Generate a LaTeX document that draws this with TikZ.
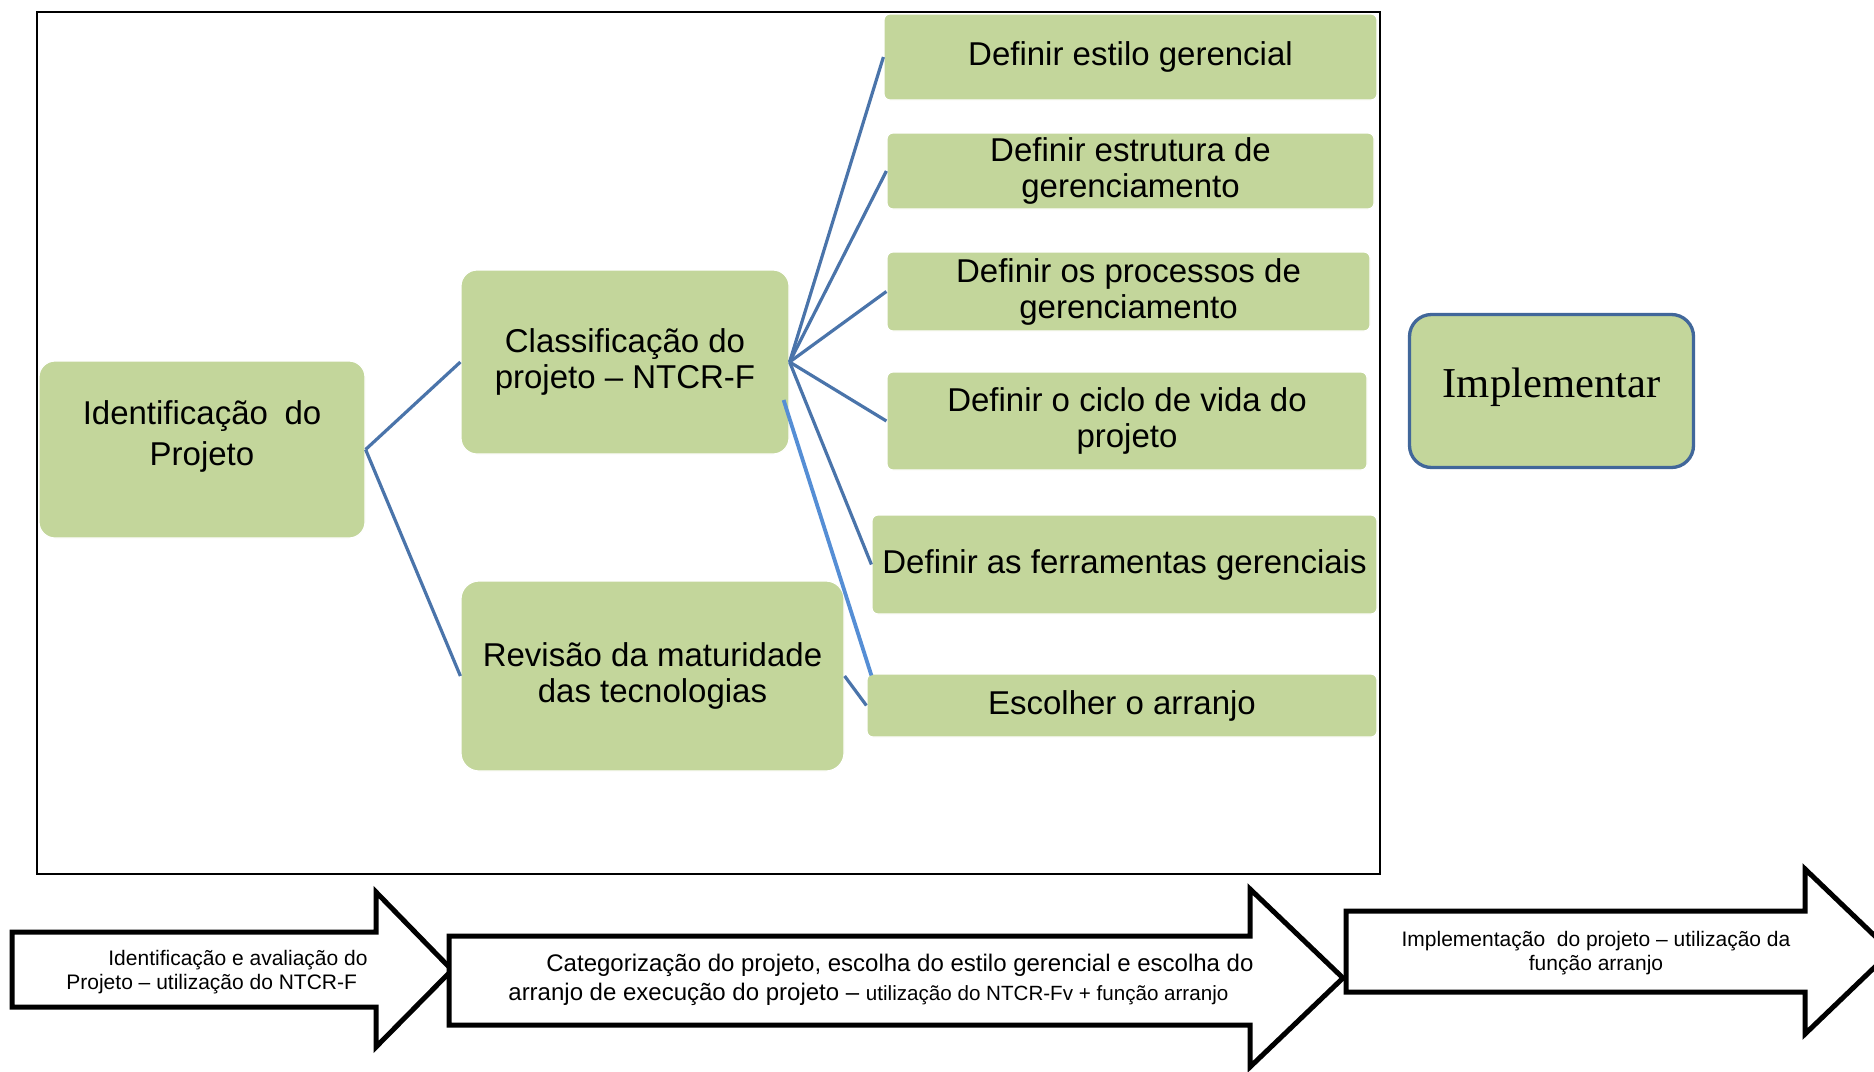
\documentclass[tikz,border=0pt]{standalone}
\usepackage{fontspec}
\setmainfont{Liberation Sans}
\newfontfamily\implfont{Liberation Serif}
\definecolor{boxgreen}{HTML}{C3D69B}
\definecolor{linkblue}{HTML}{4A74AA}
\definecolor{lightblue}{HTML}{558ED5}
\definecolor{implblue}{HTML}{41679A}
\begin{document}
\begin{tikzpicture}[x=0.5pt,y=-0.5pt,
  gbox/.style={fill=boxgreen, draw=white, line width=0.6pt, inner sep=0pt, align=center,
    font=\fontsize{16.5}{18}\selectfont},
  leftbox/.style={gbox, rounded corners=8pt},
  rightbox/.style={gbox, rounded corners=3pt},
  link/.style={draw=linkblue, line width=1.6pt},
  lightlink/.style={draw=lightblue, line width=1.9pt},
  flowarrow/.style={draw=black, fill=white, line width=2.5pt, line join=miter},
  arrowtext/.style={inner sep=0pt, font=\fontsize{10.5}{12}\selectfont}]
\useasboundingbox (0,0) rectangle (1874,1071);
\clip (0,0) rectangle (1874,1071);
\fill[white] (0,0) rectangle (1874,1071);

% frame
\draw[line width=1.2pt] (37,12) rectangle (1380,874);

% left boxes
\node[leftbox, minimum width=163pt, minimum height=88.5pt] (ident) at (202,449.5) {};
\node[inner sep=0pt, align=center, font=\fontsize{16.5}{20.5}\selectfont] (identtext) at (202,436) {Identificação\enspace do\\Projeto};
\node[leftbox, minimum width=164pt, minimum height=92pt] (class) at (625,362) {Classificação do\\projeto – NTCR-F};
\node[leftbox, minimum width=191.5pt, minimum height=95pt, rounded corners=9pt] (rev) at (652.5,676) {Revisão da maturidade\\das tecnologias};

% right boxes
\node[rightbox, minimum width=246.5pt, minimum height=43pt] (estilo) at (1130.5,57) {Definir estilo gerencial};
\node[rightbox, minimum width=243.5pt, minimum height=38pt] (estrut) at (1130.5,171) {Definir estrutura de\\gerenciamento};
\node[rightbox, minimum width=241.5pt, minimum height=39.5pt] (proc) at (1128.5,291.5) {Definir os processos de\\gerenciamento};
\node[rightbox, minimum width=240pt, minimum height=49pt] (ciclo) at (1127,421) {Definir o ciclo de vida do\\projeto};
\node[rightbox, minimum width=252.5pt, minimum height=49.5pt] (ferr) at (1124.5,564.5) {Definir as ferramentas gerenciais};
\node[rightbox, minimum width=255pt, minimum height=31.5pt] (esc) at (1122,705.5) {Escolher o arranjo};

% implementar
\node[fill=boxgreen, draw=implblue, line width=1.65pt, rounded corners=11pt, inner sep=0pt,
  minimum width=142pt, minimum height=76.5pt] (impl) at (1551.5,391) {};
\node[inner sep=0pt, font=\implfont\fontsize{21.3}{24}\selectfont] (impltext) at (1551.5,387) {Implementar};

% connectors
\draw[link] (ident.east) -- (class.west);
\draw[link] (ident.east) -- (rev.west);
\foreach \t in {estilo,estrut,proc,ciclo,ferr}{
  \draw[link] (class.east) -- (\t.west);
}
\draw[link] (rev.east) -- (esc.west);
\draw[lightlink] ([shift={(-6,38)}]class.east) -- ([shift={(5,2)}]esc.north west);

% bottom arrows
\draw[flowarrow] (12,932) -- (376,932) -- (376,892) -- (452,970) -- (376,1047) -- (376,1007) -- (12,1007) -- cycle;
\draw[flowarrow] (449,936) -- (1250,936) -- (1250,889) -- (1343,978) -- (1250,1067) -- (1250,1025) -- (449,1025) -- cycle;
\draw[flowarrow] (1346,911) -- (1805,911) -- (1805,869) -- (1891,951.5) -- (1805,1034) -- (1805,992) -- (1346,992) -- cycle;

\node[arrowtext, anchor=west, align=left] (a1text) at (66,972)
  {\hspace*{21pt}Identificação e avaliação do\\Projeto – utilização do NTCR-F};
\node[arrowtext, anchor=west, align=left, font=\fontsize{12}{14.5}\selectfont] (a2text) at (508,980)
  {\hspace*{19pt}Categorização do projeto, escolha do estilo gerencial e escolha do\\arranjo de execução do projeto – {\fontsize{10.3}{14.5}\selectfont utilização do NTCR-Fv + função arranjo}};
\node[arrowtext, align=center] (a3text) at (1596,953)
  {Implementação\ \ do projeto – utilização da\\função arranjo};
\end{tikzpicture}
\end{document}
